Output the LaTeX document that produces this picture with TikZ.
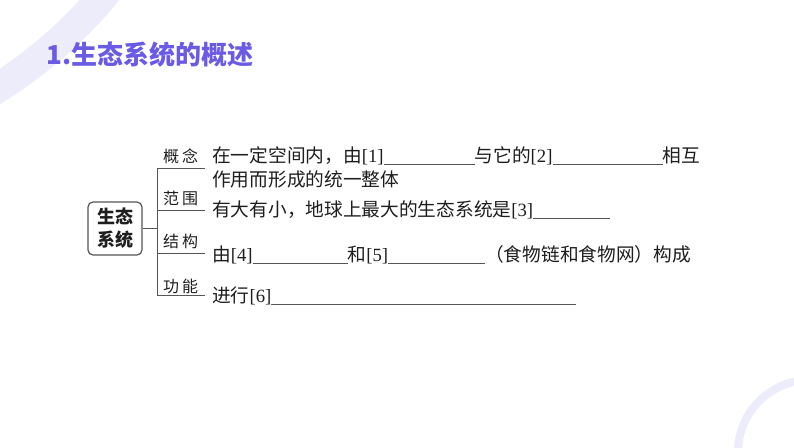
\documentclass[tikz,border=0pt]{standalone}
\usepackage{fontspec}
\setmainfont{Liberation Serif}
\newfontfamily\cjk{Noto Sans CJK SC}
\definecolor{titlepurple}{RGB}{106,90,228}
\definecolor{ringlav}{RGB}{236,236,251}
\definecolor{txt}{RGB}{30,30,30}
\definecolor{linegray}{RGB}{85,85,85}
\newcommand{\blank}[1]{\textcolor{linegray}{\rule[-3pt]{#1}{0.9pt}}}
\tikzset{
  textline/.style={anchor=base west, inner sep=0pt, text=txt, font=\fontsize{18.7}{18.7}\selectfont},
  branchlabel/.style={anchor=base west, inner sep=0pt, text=txt, font=\cjk\fontsize{16}{16}\selectfont},
  conn/.style={draw=linegray, line width=1pt},
}
\begin{document}
\begin{tikzpicture}[x=1pt,y=-1pt]
\useasboundingbox[fill=white] (0,0) rectangle (794,447);
% decorative rings
\begin{scope}
\clip (0,0) rectangle (794,447);
\draw[ringlav, line width=30pt] (-245,-297) circle (455);
\draw[ringlav, line width=8pt] (810,452) circle (72);
\end{scope}
% title
\node[anchor=base west, inner sep=0pt, text=titlepurple, font=\cjk\bfseries\fontsize{26}{26}\selectfont] (title) at (46,64) {1.生态系统的概述};
% root box
\node[draw=linegray, line width=1.2pt, rounded corners=5pt, minimum width=54pt, minimum height=53pt, inner sep=0pt, align=center, text=txt, font=\cjk\bfseries\fontsize{18}{23}\selectfont] (root) at (115,228.5) {生态\\系统};
% connectors
\coordinate (jn) at (157,228.5);
\coordinate (top) at (157,168);
\coordinate (bot) at (157,295);
\coordinate (b1) at (157,168); \coordinate (e1) at (205,168);
\coordinate (b2) at (157,210); \coordinate (e2) at (205,210);
\coordinate (b3) at (157,253); \coordinate (e3) at (205,253);
\coordinate (b4) at (157,295); \coordinate (e4) at (205,295);
\draw[conn] (root.east) -- (jn);
\draw[conn] (top) -- (bot);
\draw[conn] (b1) -- (e1);
\draw[conn] (b2) -- (e2);
\draw[conn] (b3) -- (e3);
\draw[conn] (b4) -- (e4);
% branch labels
\node[branchlabel] (l1) at (163,162) {概\hspace{3pt}念};
\node[branchlabel] (l2) at (163,204) {范\hspace{3pt}围};
\node[branchlabel] (l3) at (163,247) {结\hspace{3pt}构};
\node[branchlabel] (l4) at (163,292) {功\hspace{3pt}能};
% text lines
\node[textline] (t1) at (212,162) {{\cjk 在一定空间内，由}[1]\blank{91pt}{\cjk 与它的}[2]\blank{110pt}{\cjk 相互}};
\node[textline] (t2) at (212,186) {{\cjk 作用而形成的统一整体}};
\node[textline] (t3) at (212,216) {{\cjk 有大有小，地球上最大的生态系统是}[3]\blank{77pt}};
\node[textline] (t4) at (212,261) {{\cjk 由}[4]\blank{95pt}{\cjk 和}[5]\blank{97pt}{\cjk （食物链和食物网）构成}};
\node[textline] (t5) at (212,302) {{\cjk 进行}[6]\blank{305pt}};
\end{tikzpicture}
\end{document}
